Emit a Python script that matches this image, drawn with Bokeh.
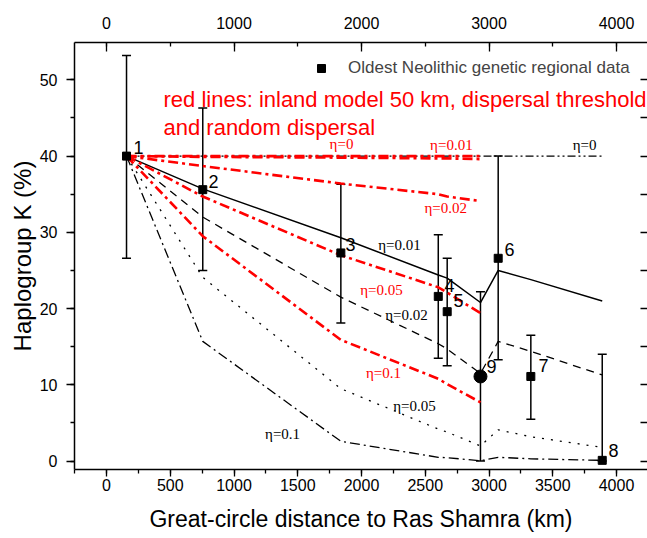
import math
from bokeh.plotting import figure
from bokeh.models import (ColumnDataSource, Range1d, LinearAxis, SingleIntervalTicker,
                          Whisker, TeeHead, Legend, LegendItem, Label, Title)
from bokeh.core.properties import value
from bokeh.embed import file_html
from bokeh.resources import INLINE

# ---------------- data ----------------
site = ["1", "2", "3", "4", "5", "9", "6", "7", "8"]
distance_km = [157, 755, 1838, 2602, 2672, 2933, 3072, 3328, 3888]
k_obs = [40.0, 35.6, 27.3, 21.6, 19.6, 11.1, 26.6, 11.1, 0.1]
k_upper = [53.2, 46.3, 36.3, 29.7, 26.6, 22.2, 40.0, 16.5, 14.0]
k_lower = [26.6, 25.0, 18.1, 13.5, 12.5, 0.0, 13.3, 5.5, 0.0]
site_marker = ["square", "square", "square", "square", "square", "circle", "square", "square", "square"]

# black lines: model with dispersal threshold (all sites)
black_eta_0 = [40, 40, 40, 40, 40, 40, 40, 40, 40]
black_eta_001 = [40, 35.7, 29.3, 24.4, 24.0, 20.8, 25.0, 23.8, 21.0]
black_eta_002 = [40, 32.0, 21.5, 15.4, 14.7, 11.5, 15.7, 14.4, 11.3]
black_eta_005 = [40, 24.1, 9.5, 4.2, 3.8, 2.0, 4.1, 3.2, 1.8]
black_eta_01 = [40, 15.7, 2.6, 0.5, 0.45, 0.05, 0.5, 0.3, 0.1]

# red lines: inland model 50 km (sites 1-5 and 9)
red_distance_km = [157, 755, 1838, 2602, 2672, 2933]
red_eta_0 = [40, 40, 40, 40, 40, 40]
red_eta_001 = [40, 39.9, 39.8, 39.7, 39.7, 39.6]
red_eta_002 = [40, 38.7, 36.4, 35.0, 34.7, 34.1]
red_eta_005 = [40, 34.7, 27.0, 22.8, 22.1, 19.4]
red_eta_01 = [40, 29.5, 15.9, 10.8, 10.1, 7.7]

# annotation text positions (data units)
site_label_x = [212, 800, 1875, 2651, 2722, 2980, 3122, 3388, 3937]
site_label_y = [41.1, 36.7, 28.4, 23.0, 21.0, 12.4, 27.8, 12.5, 1.4]

red_eta_text = ["η=0", "η=0.01", "η=0.02", "η=0.05", "η=0.1"]
red_eta_x = [1843, 2705, 2660, 2157, 2172]
red_eta_y = [41.6, 41.4, 33.2, 22.5, 11.5]
black_eta_text = ["η=0", "η=0.01", "η=0.02", "η=0.05", "η=0.1"]
black_eta_x = [3750, 2298, 2353, 2416, 1381]
black_eta_y = [41.4, 28.4, 19.2, 7.2, 3.5]

SANS = "Liberation Sans"
SERIF = "Liberation Serif"

p = figure(width=647, height=538,
           x_range=Range1d(-251, 4243), y_range=Range1d(-1.1, 54.9),
           output_backend="svg", toolbar_location=None,
           min_border_left=74, min_border_right=0, min_border_top=42, min_border_bottom=69)
p.outline_line_color = None
p.xgrid.visible = False
p.ygrid.visible = False
p.background_fill_color = "white"
p.border_fill_color = "white"


def style_axis(ax):
    ax.axis_line_color = "black"
    ax.axis_line_width = 1.5
    ax.major_tick_line_color = "black"
    ax.minor_tick_line_color = "black"
    ax.major_tick_line_width = 1.3
    ax.minor_tick_line_width = 1.3
    ax.major_label_text_font = SANS
    ax.major_label_text_font_size = "16px"
    ax.major_label_text_color = "black"
    ax.axis_label_text_font = SANS
    ax.axis_label_text_font_style = "normal"
    ax.axis_label_text_color = "black"


xb = p.xaxis[0]
style_axis(xb)
xb.ticker = SingleIntervalTicker(interval=500, num_minor_ticks=2)
xb.major_tick_out = 7
xb.major_tick_in = 0
xb.minor_tick_out = 4
xb.minor_tick_in = 0
xb.major_label_standoff = 2
xb.axis_label = "Great-circle distance to Ras Shamra (km)"
xb.axis_label_text_font_size = "23px"
xb.axis_label_standoff = 12

yl = p.yaxis[0]
style_axis(yl)
yl.ticker = SingleIntervalTicker(interval=10, num_minor_ticks=2)
yl.major_tick_out = 8
yl.major_tick_in = 0
yl.minor_tick_out = 4
yl.minor_tick_in = 0
yl.major_label_standoff = 9

xt = LinearAxis(ticker=SingleIntervalTicker(interval=1000, num_minor_ticks=2))
style_axis(xt)
xt.major_tick_in = 9
xt.major_tick_out = 0
xt.minor_tick_in = 4
xt.minor_tick_out = 0
xt.major_label_standoff = 14
p.add_layout(xt, "above")

yr = LinearAxis(ticker=SingleIntervalTicker(interval=5, num_minor_ticks=0))
style_axis(yr)
yr.axis_line_color = None
yr.major_tick_in = 7
yr.major_tick_out = 0
yr.minor_tick_in = 0
yr.minor_tick_out = 0
yr.major_label_text_font_size = "0px"
yr.major_label_text_color = None
yr.major_label_standoff = 0
p.add_layout(yr, "right")

# y axis title as a side-panel title, shifted up like the reference
p.add_layout(Title(text="Haplogroup K (%)", align="center", offset=16, standoff=2,
                   text_font=SANS, text_font_size="24px", text_font_style="normal",
                   text_color="black"), "left")

# error bars
src = ColumnDataSource(dict(x=distance_km, y=k_obs, upper=k_upper, lower=k_lower,
                            marker=site_marker,
                            size=[13 if m == "circle" else 8 for m in site_marker]))
w = Whisker(source=src, base="x", upper="upper", lower="lower",
            line_color="black", line_width=1.5,
            upper_head=TeeHead(size=9, line_color="black", line_width=1.5),
            lower_head=TeeHead(size=9, line_color="black", line_width=1.5))
p.add_layout(w)

# black model lines
bw = 1.3
p.line(distance_km, black_eta_0, line_color="black", line_width=bw, line_dash="8 3 2 3 2 3")
p.line(distance_km, black_eta_001, line_color="black", line_width=1.5)
p.line(distance_km, black_eta_002, line_color="black", line_width=bw, line_dash="8 6")
p.line(distance_km, black_eta_005, line_color="black", line_width=bw, line_dash="2 7")
p.line(distance_km, black_eta_01, line_color="black", line_width=bw, line_dash="10 4 2 4")

# red inland model lines
rw = 2.6
RED = "#ff0000"
p.line(red_distance_km, red_eta_0, line_color=RED, line_width=rw, line_dash="10 4 3 4 3 4")
p.line(red_distance_km, red_eta_001, line_color=RED, line_width=rw, line_dash="10 4 3 4")
p.line(red_distance_km, red_eta_002, line_color=RED, line_width=rw, line_dash="10 4 3 4")
p.line(red_distance_km, red_eta_005, line_color=RED, line_width=rw, line_dash="10 4 3 4")
p.line(red_distance_km, red_eta_01, line_color=RED, line_width=rw, line_dash="10 4 3 4")

# observed data
pts = p.scatter("x", "y", source=src, marker="marker", size="size",
                fill_color="black", line_color="black")

# site numbers
p.text(x=site_label_x, y=site_label_y, text=site, text_font=value(SANS),
       text_font_size="18px", text_align="left", text_baseline="middle", text_color="black")

# eta labels
p.text(x=red_eta_x, y=red_eta_y, text=red_eta_text, text_font=value(SERIF),
       text_font_size="15px", text_align="center", text_baseline="middle", text_color=RED)
p.text(x=black_eta_x, y=black_eta_y, text=black_eta_text, text_font=value(SERIF),
       text_font_size="15px", text_align="center", text_baseline="middle", text_color="black")

# red note
p.add_layout(Label(x=447, y=47.4, text="red lines: inland model 50 km, dispersal threshold",
                   text_font=SANS, text_font_size="22px", text_color=RED,
                   text_baseline="alphabetic"))
p.add_layout(Label(x=447, y=43.8, text="and random dispersal",
                   text_font=SANS, text_font_size="22px", text_color=RED,
                   text_baseline="alphabetic"))

legend = Legend(items=[LegendItem(label="Oldest Neolithic genetic regional data",
                                  renderers=[pts], index=0)],
                location=(237, 391), padding=0, margin=0, spacing=0,
                glyph_width=20, glyph_height=20, label_standoff=17,
                label_text_font=SANS, label_text_font_size="17px",
                border_line_color=None, background_fill_alpha=0)
p.add_layout(legend)

open("out.html", "w").write(file_html(p, INLINE))
